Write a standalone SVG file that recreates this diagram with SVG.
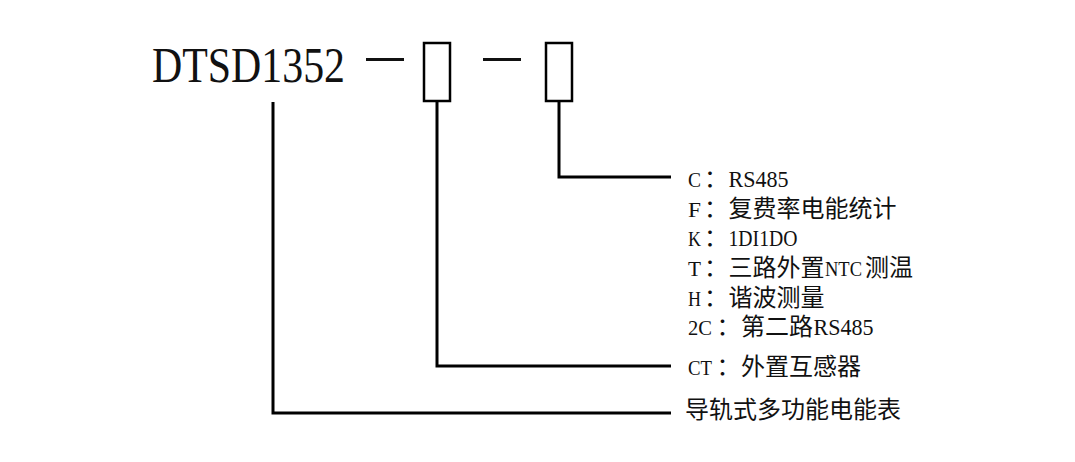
<svg xmlns="http://www.w3.org/2000/svg" width="1075" height="462" viewBox="0 0 1075 462">
<style>
  .t { font-family: "Liberation Serif", "Noto Sans CJK SC", serif; fill: #111; }
  .lbl { font-size: 24px; }
  .k { font-size: 22px; }
  .conn { fill: none; stroke: #000; stroke-width: 3; stroke-linejoin: miter; stroke-linecap: butt; }
  .box { fill: none; stroke: #000; stroke-width: 2.5; }
  .dash { stroke: #111; stroke-width: 3; }
</style>
<rect width="1075" height="462" fill="#fff"/>
<g id="model">
  <text class="t" x="152" y="82" font-size="50" textLength="193" lengthAdjust="spacingAndGlyphs">DTSD1352</text>
  <line class="dash" x1="366" y1="59.5" x2="404" y2="59.5"/>
  <rect class="box" x="424" y="43" width="26" height="58"/>
  <line class="dash" x1="483" y1="59.5" x2="521" y2="59.5"/>
  <rect class="box" x="546" y="43" width="26" height="58"/>
</g>
<g id="connectors">
  <polyline class="conn" points="559,102 559,177 671,177"/>
  <polyline class="conn" points="437,102 437,366 671,366"/>
  <polyline class="conn" points="273,102 273,413 671,413"/>
</g>
<g id="options">
  <text class="t lbl" y="187"><tspan class="k" x="688" textLength="13" lengthAdjust="spacingAndGlyphs">C</tspan><tspan x="704">：</tspan><tspan x="728.5" textLength="60" lengthAdjust="spacingAndGlyphs">RS485</tspan></text>
  <text class="t lbl" y="216.5"><tspan class="k" x="688" textLength="13" lengthAdjust="spacingAndGlyphs">F</tspan><tspan x="704">：</tspan><tspan x="728.5">复费率电能统计</tspan></text>
  <text class="t lbl" y="246"><tspan class="k" x="688" textLength="13" lengthAdjust="spacingAndGlyphs">K</tspan><tspan x="704">：</tspan><tspan x="728.5" textLength="69" lengthAdjust="spacingAndGlyphs">1DI1DO</tspan></text>
  <text class="t lbl" y="276"><tspan class="k" x="688" textLength="13" lengthAdjust="spacingAndGlyphs">T</tspan><tspan x="704">：</tspan><tspan x="728.5">三路外置</tspan><tspan x="825" font-size="20" textLength="37" lengthAdjust="spacingAndGlyphs">NTC</tspan><tspan x="865">测温</tspan></text>
  <text class="t lbl" y="305.5"><tspan class="k" x="688" textLength="13" lengthAdjust="spacingAndGlyphs">H</tspan><tspan x="704">：</tspan><tspan x="728.5">谐波测量</tspan></text>
  <text class="t lbl" y="335"><tspan class="k" x="688" textLength="24" lengthAdjust="spacingAndGlyphs">2C</tspan><tspan x="716.5">：</tspan><tspan x="741">第二路</tspan><tspan x="813.5" textLength="60" lengthAdjust="spacingAndGlyphs">RS485</tspan></text>
</g>
<g id="ct">
  <text class="t lbl" y="375"><tspan class="k" x="688" textLength="24" lengthAdjust="spacingAndGlyphs">CT</tspan><tspan x="716.5">：</tspan><tspan x="741">外置互感器</tspan></text>
</g>
<g id="type">
  <text class="t lbl" x="685" y="418">导轨式多功能电能表</text>
</g>
</svg>
